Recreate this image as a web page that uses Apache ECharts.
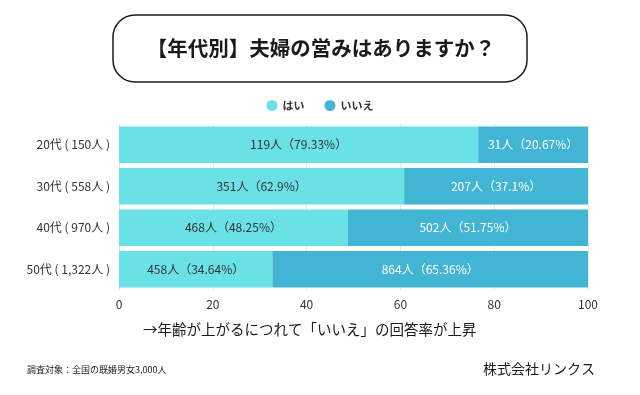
<!DOCTYPE html>
<html>
<head>
<meta charset="utf-8">
<script src="https://cdn.jsdelivr.net/npm/echarts@6/dist/echarts.min.js"></script>
<style>
html,body{margin:0;padding:0;background:#fff;}
#c{width:640px;height:395px;}
</style>
</head>
<body>
<div id="c"></div>
<script>
// ---- data ----
const categories = ['20代 ( 150人 )', '30代 ( 558人 )', '40代 ( 970人 )', '50代 ( 1,322人 )'];
const seriesNames = ['はい', 'いいえ'];
const yesValues = [76.6, 60.8, 48.8, 32.7];
const noValues = [23.4, 39.2, 51.2, 67.3];
const yesLabels = ['119人（79.33%）', '351人（62.9%）', '468人（48.25%）', '458人（34.64%）'];
const noLabels = ['31人（20.67%）', '207人（37.1%）', '502人（51.75%）', '864人（65.36%）'];
const xTicks = [0, 20, 40, 60, 80, 100];
const titleText = '【年代別】夫婦の営みはありますか？';
const noteText = '→年齢が上がるにつれて「いいえ」の回答率が上昇';
const sourceText = '調査対象：全国の既婚男女3,000人';
const companyText = '株式会社リンクス';

const FONT = '"Noto Sans CJK JP", "Noto Sans", sans-serif';
const chart = echarts.init(document.getElementById('c'), null, {renderer: 'canvas'});
chart.setOption({
  backgroundColor: '#ffffff',
  animation: false,
  textStyle: {fontFamily: FONT},
  legend: {
    data: seriesNames,
    top: 95,
    left: 'center',
    icon: 'circle',
    itemWidth: 11,
    itemHeight: 11,
    itemGap: 20,
    textStyle: {fontSize: 11, color: '#333', fontFamily: FONT, fontWeight: 'bold'}
  },
  grid: {left: 119, right: 52, top: 124, bottom: 105, containLabel: false},
  xAxis: {
    type: 'value',
    min: xTicks[0],
    max: xTicks[xTicks.length - 1],
    interval: 20,
    axisLine: {show: false},
    axisTick: {show: false},
    axisLabel: {fontSize: 12, color: '#333', margin: 8, fontFamily: FONT},
    splitLine: {show: true, lineStyle: {color: '#e6e6e6', width: 1}}
  },
  yAxis: {
    type: 'category',
    data: categories,
    inverse: true,
    axisLine: {show: false},
    axisTick: {show: false},
    axisLabel: {fontSize: 12, color: '#333', margin: 9, fontFamily: FONT}
  },
  series: [
    {
      name: seriesNames[0],
      type: 'bar',
      stack: 'total',
      data: yesValues,
      barCategoryGap: '12%',
      itemStyle: {color: '#6ae1e7'},
      label: {
        show: true, position: 'inside', fontSize: 12, color: '#333', fontFamily: FONT,
        formatter: p => yesLabels[p.dataIndex]
      }
    },
    {
      name: seriesNames[1],
      type: 'bar',
      stack: 'total',
      data: noValues,
      barCategoryGap: '12%',
      itemStyle: {color: '#42b4d4'},
      label: {
        show: true, position: 'inside', fontSize: 12, color: '#ffffff', fontFamily: FONT,
        formatter: p => noLabels[p.dataIndex]
      }
    }
  ],
  graphic: [
    {
      type: 'rect',
      shape: {x: 113, y: 15, width: 414, height: 67, r: 22},
      style: {fill: '#fff', stroke: '#1a1a1a', lineWidth: 1.5}
    },
    {
      type: 'text',
      x: 321, y: 48,
      style: {text: titleText, fontSize: 20.5, fontWeight: 'bold', fill: '#1a1a1a',
        fontFamily: FONT, align: 'center', verticalAlign: 'middle'}
    },
    {
      type: 'text',
      x: 143, y: 329,
      style: {text: noteText, fontSize: 14.5, fill: '#1a1a1a', fontFamily: FONT,
        align: 'left', verticalAlign: 'middle'}
    },
    {
      type: 'text',
      x: 27, y: 370,
      style: {text: sourceText, fontSize: 9, fill: '#1a1a1a', fontFamily: FONT,
        align: 'left', verticalAlign: 'middle'}
    },
    {
      type: 'text',
      x: 595, y: 369,
      style: {text: companyText, fontSize: 14, fill: '#1a1a1a', fontFamily: FONT,
        align: 'right', verticalAlign: 'middle'}
    }
  ]
});
</script>
</body>
</html>
